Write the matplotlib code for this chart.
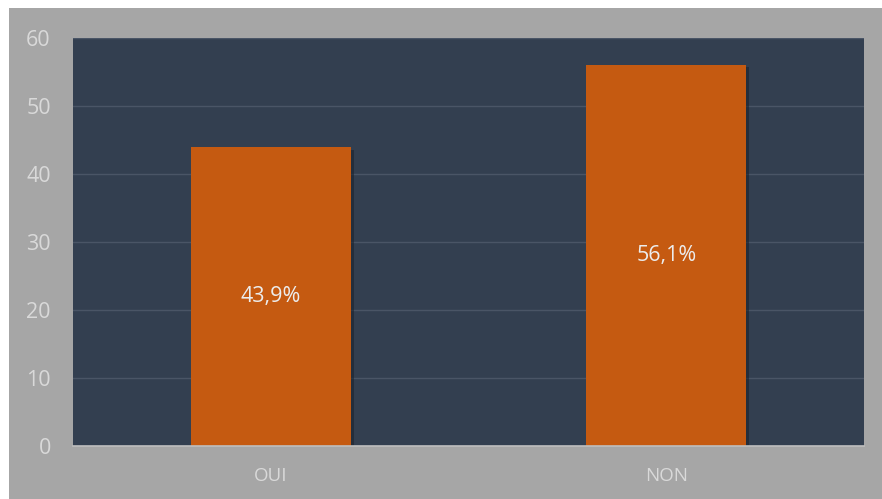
import matplotlib.pyplot as plt
import matplotlib.patheffects as pe
from matplotlib.patches import Rectangle

categories = ['OUI', 'NON']
values = [43.9, 56.1]
labels = ['43,9%', '56,1%']
yticks = [0, 10, 20, 30, 40, 50, 60]

plt.rcParams['font.family'] = ['Open Sans', 'DejaVu Sans']

W, H = 882, 499
fig = plt.figure(figsize=(W / 100, H / 100), dpi=100)
fig.patch.set_facecolor('white')

# grey chart area below the cut-off title
fig.patches.append(Rectangle((9 / W, 0), 1 - 9 / W, 1 - 8 / H,
                             transform=fig.transFigure, facecolor='#a6a6a6',
                             edgecolor='none', zorder=-5))

ax = fig.add_axes([73 / W, (H - 446) / H, (864 - 73) / W, (446 - 38) / H])
ax.set_facecolor('#333f50')

x = range(len(categories))
bars = ax.bar(x, values, width=0.405, color='#c55a11', zorder=3)
for b in bars:
    b.set_path_effects([pe.SimplePatchShadow(offset=(2, -2), shadow_rgbFace='#1c232d', alpha=0.6),
                        pe.Normal()])

for i, (v, lab) in enumerate(zip(values, labels)):
    ax.text(i, v / 2, lab, ha='center', va='center', color='#ececec', fontsize=15.5, zorder=4)

ax.set_xlim(-0.5, 1.5)
ax.set_ylim(0, 60)
ax.set_yticks(yticks)
ax.set_xticks(list(x))
ax.set_xticklabels(categories)
ax.grid(axis='y', color='#4a5566', linewidth=1, zorder=1)
ax.tick_params(length=0, colors='#d9d9d9')
ax.tick_params(axis='y', pad=16, labelsize=15.5)
ax.tick_params(axis='x', pad=15, labelsize=13.5)
for s in ['top', 'right', 'left']:
    ax.spines[s].set_visible(False)
ax.spines['bottom'].set_color('#bfbfbf')
ax.spines['bottom'].set_linewidth(1.2)
ax.spines['bottom'].set_zorder(5)

fig.savefig('out.png', dpi=100)
